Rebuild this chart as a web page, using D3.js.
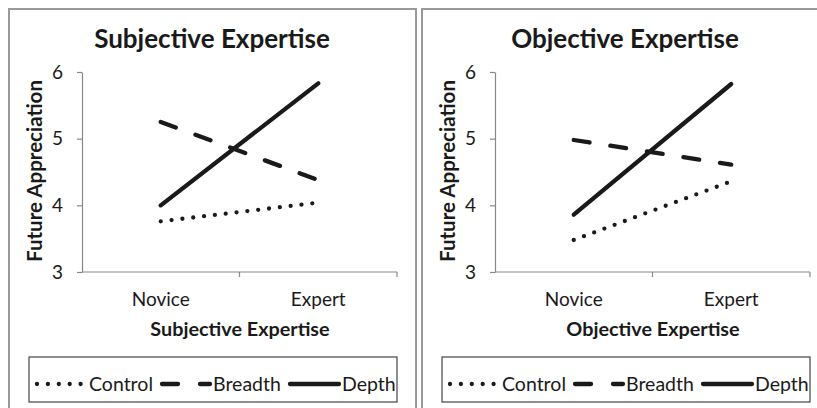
<!DOCTYPE html>
<html>
<head>
<meta charset="utf-8">
<script src="https://cdn.jsdelivr.net/npm/d3@7"></script>
<style>
  body { margin: 0; background: #fff; }
  svg { display: block; font-family: Lato, "Open Sans", sans-serif; }
</style>
</head>
<body>
<div id="chart"></div>
<script>
// chart data
var categories = ["Novice", "Expert"];
var panelTitles = ["Subjective Expertise", "Objective Expertise"];
var seriesNames = ["Control", "Breadth", "Depth"];
var yTicks = [3, 4, 5, 6];

// values per panel, order follows categories
var subjControl = [3.76, 4.04];
var subjBreadth = [5.25, 4.38];
var subjDepth = [4.00, 5.83];

var objControl = [3.48, 4.36];
var objBreadth = [4.98, 4.61];
var objDepth = [3.86, 5.82];

var svgWidth = 817;
var svgHeight = 408;

var svg = d3.select("#chart")
  .append("svg")
  .attr("width", svgWidth)
  .attr("height", svgHeight);

// line styles for the three series
var styles = {
  Control: { dash: "0,10.9", cap: "round", width: 4.3 },
  Breadth: { dash: "16,21", cap: "round", width: 4.3 },
  Depth: { dash: null, cap: "round", width: 4.3 }
};

function drawPanel(offsetX, title, values) {
  var g = svg.append("g")
    .attr("transform", `translate(${offsetX}, 0)`);

  // plot area inside each panel
  var x = d3.scaleBand().domain(categories).range([82, 397]).padding(0);
  var y = d3.scaleLinear().domain([3, 6]).range([272, 72]);

  // chart title
  g.append("text")
    .attr("x", 212)
    .attr("y", 48)
    .attr("text-anchor", "middle")
    .attr("font-weight", "bold")
    .attr("font-size", "26px")
    .attr("fill", "#1a1a1a")
    .text(title);

  // y axis
  var yAxis = g.append("g")
    .attr("transform", "translate(82,0)")
    .call(d3.axisLeft(y).tickValues(yTicks).tickFormat(d3.format("d"))
      .tickSize(5).tickPadding(14).tickSizeOuter(0));
  yAxis.attr("font-family", null).attr("font-size", null);
  yAxis.select(".domain").attr("stroke", "#888").attr("stroke-width", 1.2);
  yAxis.selectAll(".tick line").attr("stroke", "#888").attr("stroke-width", 1.2);
  yAxis.selectAll(".tick text")
    .attr("font-size", "19px")
    .attr("fill", "#1a1a1a");

  // x axis: ticks sit between categories, like the original
  var edges = categories.map(function(c) { return x(c) + x.bandwidth(); });
  g.append("line")
    .attr("x1", x.range()[0]).attr("x2", x.range()[1])
    .attr("y1", y(3)).attr("y2", y(3))
    .attr("stroke", "#888").attr("stroke-width", 1.2);
  g.selectAll(".xtick")
    .data(edges)
    .enter().append("line")
    .attr("x1", function(d) { return d; }).attr("x2", function(d) { return d; })
    .attr("y1", y(3)).attr("y2", y(3) + 5)
    .attr("stroke", "#888").attr("stroke-width", 1.2);

  g.selectAll(".xlabel")
    .data(categories)
    .enter().append("text")
    .attr("x", function(d) { return x(d) + x.bandwidth() / 2; })
    .attr("y", 306)
    .attr("text-anchor", "middle")
    .attr("font-size", "19px")
    .attr("fill", "#1a1a1a")
    .text(function(d) { return d; });

  // axis titles
  g.append("text")
    .attr("x", 240)
    .attr("y", 336)
    .attr("text-anchor", "middle")
    .attr("font-weight", "bold")
    .attr("font-size", "19.8px")
    .attr("fill", "#1a1a1a")
    .text(title);

  g.append("text")
    .attr("transform", "translate(42,171) rotate(-90)")
    .attr("text-anchor", "middle")
    .attr("font-weight", "bold")
    .attr("font-size", "20.5px")
    .attr("fill", "#1a1a1a")
    .text("Future Appreciation");

  // the three lines
  var line = d3.line()
    .x(function(d, i) { return x(categories[i]) + x.bandwidth() / 2; })
    .y(function(d) { return y(d); });

  seriesNames.forEach(function(name, k) {
    var st = styles[name];
    g.append("path")
      .datum(values[k])
      .attr("d", line)
      .attr("fill", "none")
      .attr("stroke", "#1a1a1a")
      .attr("stroke-width", st.width)
      .attr("stroke-linecap", st.cap)
      .attr("stroke-dasharray", st.dash);
  });

  // legend
  g.append("rect")
    .attr("x", 29).attr("y", 357)
    .attr("width", 368).attr("height", 45)
    .attr("fill", "none")
    .attr("stroke", "#444").attr("stroke-width", 1.2);

  var legendPos = [
    { x1: 37, x2: 83, tx: 89 },
    { x1: 162, x2: 210, tx: 213 },
    { x1: 290, x2: 339, tx: 342 }
  ];
  seriesNames.forEach(function(name, k) {
    var st = styles[name];
    var p = legendPos[k];
    g.append("line")
      .attr("x1", p.x1).attr("x2", p.x2)
      .attr("y1", 384).attr("y2", 384)
      .attr("stroke", "#1a1a1a")
      .attr("stroke-width", st.width)
      .attr("stroke-linecap", st.cap)
      .attr("stroke-dasharray", name === "Breadth" ? "16,22" : st.dash);
    g.append("text")
      .attr("x", p.tx).attr("y", 391)
      .attr("font-size", "19.5px")
      .attr("fill", "#1a1a1a")
      .text(name);
  });
}

// panel frames
svg.append("path")
  .attr("d", "M9,408 V9 H416 V408")
  .attr("fill", "none").attr("stroke", "#999").attr("stroke-width", 2);
svg.append("path")
  .attr("d", "M422,408 V9 H817")
  .attr("fill", "none").attr("stroke", "#999").attr("stroke-width", 2);

drawPanel(0, panelTitles[0], [subjControl, subjBreadth, subjDepth]);
drawPanel(413, panelTitles[1], [objControl, objBreadth, objDepth]);
</script>
</body>
</html>
